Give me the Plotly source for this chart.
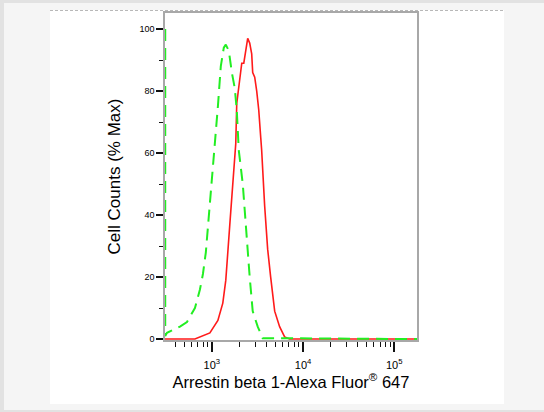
import plotly.graph_objects as go

# ---- data (fluorescence intensity, % of max) ----
control_x = [308, 308, 322, 447, 533, 652, 740, 798, 859, 951, 1079, 1164, 1253, 1352,
             1422, 1535, 1656, 1782, 1875, 1923, 1972, 2183, 2415, 2600, 2805, 3184,
             3606, 177828]
control_y = [100, 1, 2, 4, 5.5, 10, 16, 21, 28, 43, 61, 75, 88, 94,
             95, 93, 86, 81, 74, 65, 61, 50, 32, 20, 9, 4,
             0.3, 0]

sample_x = [306, 652, 951, 1164, 1318, 1422, 1574, 1698, 1828, 1875, 2023, 2128, 2239,
            2355, 2472, 2600, 2735, 2805, 2951, 3105, 3266, 3436, 3516, 3793, 4093,
            4416, 4887, 5534, 6281, 7112, 177828]
sample_y = [0, 0, 2, 6, 11.6, 19, 37, 49, 63, 76, 84.5, 89, 89,
            94, 97, 95.5, 92, 86, 84.5, 80, 74, 65, 61, 43, 29,
            20, 9, 4, 0.7, 0, 0]

y_major = [0, 20, 40, 60, 80, 100]
y_minor = [10, 30, 50, 70, 90]
x_major = [1000, 10000, 100000]
x_labels = ["10<sup>3</sup>", "10<sup>4</sup>", "10<sup>5</sup>"]
x_minor = [m * 10 ** e for e in (2, 3, 4) for m in range(2, 10)]

W, H = 544, 412
L, R, T, B = 165, 417, 13, 340  # plot area in pixels


def px(x):
    return (x - L) / (R - L)


def py(y):
    return (B - y) / (B - T)


fig = go.Figure()
fig.add_trace(go.Scatter(x=sample_x, y=sample_y, mode="lines",
                         line=dict(color="#ff1a1a", width=1.6), showlegend=False))
fig.add_trace(go.Scatter(x=control_x, y=control_y, mode="lines",
                         line=dict(color="#22ee22", width=2, dash="12px,7px"),
                         showlegend=False))

shapes = [
    # outer borders
    dict(type="rect", xref="paper", yref="paper", x0=px(0), x1=px(W), y0=py(3), y1=py(0),
         fillcolor="#e2e2e2", line=dict(width=0), layer="below"),
    dict(type="rect", xref="paper", yref="paper", x0=px(0), x1=px(4), y0=py(H), y1=py(0),
         fillcolor="#e2e2e2", line=dict(width=0), layer="below"),
    dict(type="rect", xref="paper", yref="paper", x0=px(0), x1=px(W), y0=py(H), y1=py(410),
         fillcolor="#e2e2e2", line=dict(width=0), layer="below"),
    # white panel
    dict(type="rect", xref="paper", yref="paper", x0=px(50), x1=px(504), y0=py(404), y1=py(10),
         fillcolor="white", line=dict(width=0), layer="below"),
    dict(type="line", xref="paper", yref="paper", x0=px(50), x1=px(504), y0=py(10.5), y1=py(10.5),
         line=dict(color="#b8b8b8", width=1, dash="3px,2px"), layer="below"),
]

fig.update_layout(
    width=W, height=H,
    margin=dict(l=L, r=W - R, t=T, b=H - B, autoexpand=False),
    paper_bgcolor="#f5f5f5",
    plot_bgcolor="white",
    shapes=shapes,
    font=dict(family="Liberation Sans, Arial, sans-serif", color="black"),
)

fig.update_xaxes(
    type="log", range=[2.486, 5.25],
    showgrid=False, zeroline=False,
    showline=True, linecolor="#a8a8a8", linewidth=1.5, mirror=True,
    layer="below traces",
    tickmode="array", tickvals=x_major, ticktext=x_labels,
    ticks="outside", ticklen=10, tickwidth=1.5, tickcolor="#111",
    ticklabelstandoff=4,
    tickfont=dict(size=11, family="Liberation Sans Narrow, Liberation Sans, Arial"),
    minor=dict(tickmode="array", tickvals=x_minor, ticks="outside", ticklen=5,
               tickwidth=1, tickcolor="#111"),
    title=dict(text="Arrestin beta 1-Alexa Fluor<sup>®</sup> 647",
               font=dict(size=16.5, color="black"), standoff=5),
)

fig.update_yaxes(
    range=[-0.3, 105.2],
    showgrid=False, zeroline=False,
    showline=True, linecolor="#a8a8a8", linewidth=1.5, mirror=True,
    layer="below traces",
    tickmode="array", tickvals=y_major,
    ticks="outside", ticklen=7, tickwidth=2, tickcolor="#111",
    tickfont=dict(size=9, family="Liberation Sans Narrow, Liberation Sans, Arial"),
    minor=dict(tickmode="array", tickvals=y_minor, ticks="outside", ticklen=4,
               tickwidth=1, tickcolor="#111"),
    title=dict(text="Cell Counts (% Max)", font=dict(size=17, color="black"), standoff=14),
)

fig.write_html("out.html", config={"displayModeBar": False},
               post_script="document.body.style.margin='0';")
